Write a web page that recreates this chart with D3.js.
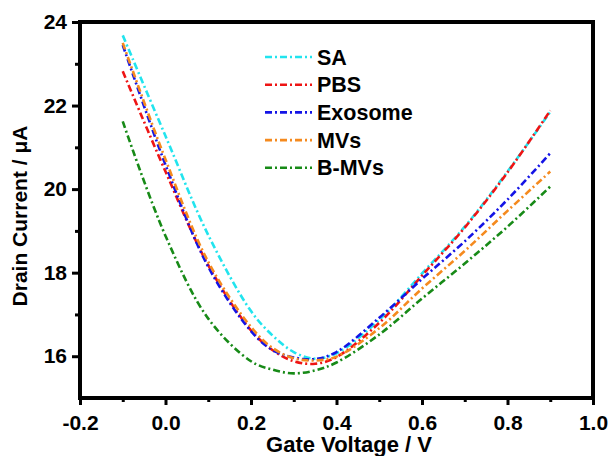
<!DOCTYPE html>
<html>
<head>
<meta charset="utf-8">
<script src="https://cdn.jsdelivr.net/npm/d3@7"></script>
<style>
  body { margin: 0; background: #fff; }
  text { font-family: "Liberation Sans", Arial, sans-serif; font-weight: bold; }
</style>
</head>
<body>
<div id="chart"></div>
<script>
// gate voltage sample points (V)
const voltage = [-0.1, 0.0, 0.1, 0.2, 0.25, 0.3, 0.35, 0.4, 0.5, 0.6, 0.7, 0.8, 0.9];

// drain current per sample (uA)
const sa      = [23.68, 21.27, 18.90, 17.08, 16.50, 16.10, 15.94, 16.07, 16.87, 17.98, 19.10, 20.42, 21.85];
const pbs     = [22.82, 20.42, 18.18, 16.62, 16.15, 15.88, 15.82, 15.98, 16.80, 17.93, 19.08, 20.40, 21.88];
const exosome = [23.45, 20.58, 18.14, 16.60, 16.15, 15.97, 15.93, 16.10, 16.92, 17.85, 18.75, 19.75, 20.86];
const mvs     = [23.50, 20.71, 18.26, 16.70, 16.20, 15.95, 15.90, 15.99, 16.67, 17.62, 18.52, 19.48, 20.42];
const bmvs    = [21.62, 18.88, 16.90, 15.88, 15.68, 15.59, 15.66, 15.85, 16.52, 17.38, 18.22, 19.10, 20.06];

const seriesNames = ["SA", "PBS", "Exosome", "MVs", "B-MVs"];
const seriesValues = [sa, pbs, exosome, mvs, bmvs];
const seriesColors = ["#22e4ee", "#ee1414", "#1414e6", "#f58a1e", "#178a17"];

const xMajor = [-0.2, 0.0, 0.2, 0.4, 0.6, 0.8, 1.0];
const xMinor = [-0.1, 0.1, 0.3, 0.5, 0.7, 0.9];
const yMajor = [16, 18, 20, 22, 24];
const yMinor = [17, 19, 21, 23];

const width = 611, height = 456;
const margin = {top: 22, right: 18, bottom: 58, left: 80};

const svg = d3.select("#chart").append("svg")
    .attr("width", width)
    .attr("height", height);

const x = d3.scaleLinear().domain([-0.2, 1.0]).range([margin.left, width - margin.right]);
const y = d3.scaleLinear().domain([15, 24]).range([height - margin.bottom, margin.top]);

const dash = "7,3,2,3";

// lines
const line = d3.line()
    .x(d => x(d[0]))
    .y(d => y(d[1]))
    .curve(d3.curveCatmullRom.alpha(0.5));

seriesValues.forEach((vals, i) => {
    svg.append("path")
        .datum(voltage.map((v, k) => [v, vals[k]]))
        .attr("fill", "none")
        .attr("stroke", seriesColors[i])
        .attr("stroke-width", 2.6)
        .attr("stroke-dasharray", dash)
        .attr("d", line);
});

// x axis major + minor
const xAxis = svg.append("g")
    .attr("transform", `translate(0,${height - margin.bottom})`)
    .call(d3.axisBottom(x).tickValues(xMajor).tickFormat(d => d.toFixed(1)).tickSize(7).tickPadding(10));
xAxis.select(".domain").remove();
xAxis.selectAll("line").attr("stroke-width", 3);
xAxis.selectAll("text").attr("font-size", 21).attr("fill", "#000")
    .style("font-family", "'Liberation Sans', Arial, sans-serif").style("font-weight", "bold");

const xAxisMinor = svg.append("g")
    .attr("transform", `translate(0,${height - margin.bottom})`)
    .call(d3.axisBottom(x).tickValues(xMinor).tickFormat("").tickSize(4));
xAxisMinor.select(".domain").remove();
xAxisMinor.selectAll("line").attr("stroke-width", 3);

// y axis major + minor
const yAxis = svg.append("g")
    .attr("transform", `translate(${margin.left},0)`)
    .call(d3.axisLeft(y).tickValues(yMajor).tickSize(8).tickPadding(5));
yAxis.select(".domain").remove();
yAxis.selectAll("line").attr("stroke-width", 3);
yAxis.selectAll("text").attr("font-size", 21).attr("fill", "#000")
    .style("font-family", "'Liberation Sans', Arial, sans-serif").style("font-weight", "bold");

const yAxisMinor = svg.append("g")
    .attr("transform", `translate(${margin.left},0)`)
    .call(d3.axisLeft(y).tickValues(yMinor).tickFormat("").tickSize(5));
yAxisMinor.select(".domain").remove();
yAxisMinor.selectAll("line").attr("stroke-width", 3);

// frame
svg.append("rect")
    .attr("x", margin.left)
    .attr("y", margin.top)
    .attr("width", width - margin.left - margin.right)
    .attr("height", height - margin.top - margin.bottom)
    .attr("fill", "none")
    .attr("stroke", "#000")
    .attr("stroke-width", 4);

// axis titles
svg.append("text")
    .attr("x", 349)
    .attr("y", 452)
    .attr("text-anchor", "middle")
    .attr("font-size", 22)
    .text("Gate Voltage / V");

svg.append("text")
    .attr("transform", "translate(27,216) rotate(-90)")
    .attr("text-anchor", "middle")
    .attr("font-size", 21)
    .text("Drain Current / \u03BCA");

// legend
const legend = svg.append("g");
seriesNames.forEach((name, i) => {
    const cy = 57 + i * 27.7;
    legend.append("line")
        .attr("x1", 265).attr("x2", 312)
        .attr("y1", cy).attr("y2", cy)
        .attr("stroke", seriesColors[i])
        .attr("stroke-width", 2.6)
        .attr("stroke-dasharray", dash);
    legend.append("text")
        .attr("x", 317)
        .attr("y", cy + 7.5)
        .attr("font-size", 21.5)
        .text(name);
});
</script>
</body>
</html>
